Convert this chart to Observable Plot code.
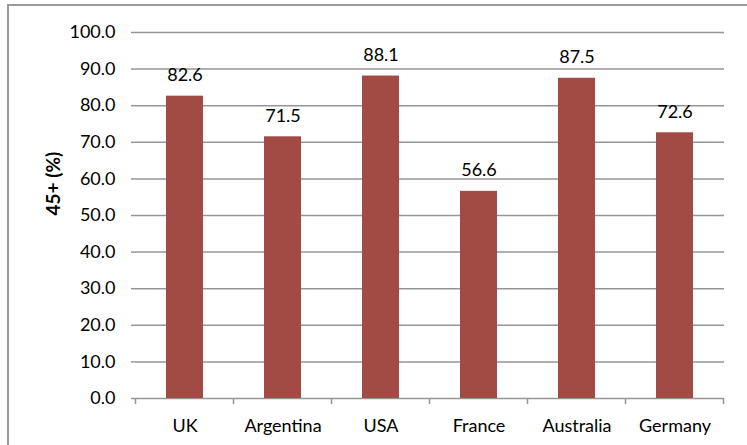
<!DOCTYPE html>
<html>
<head>
<meta charset="utf-8">
<script src="https://cdn.jsdelivr.net/npm/d3@7"></script>
<script src="https://cdn.jsdelivr.net/npm/@observablehq/plot@0.6"></script>
<style>
  html, body { margin: 0; padding: 0; background: #fff; overflow: hidden; }
  #wrap { position: relative; width: 747px; height: 445px; overflow: hidden; }
  #border { position: absolute; left: 7px; top: 4px; width: 800px; height: 500px; border: 2px solid #9a9a9a; box-sizing: border-box; }
  #chart { position: absolute; left: 0; top: 0; }
  #chart svg { background: transparent; }
</style>
</head>
<body>
<div id="wrap">
  <div id="border"></div>
  <div id="chart"></div>
</div>
<script>
const countries = ["UK", "Argentina", "USA", "France", "Australia", "Germany"];
const shares = [82.6, 71.5, 88.1, 56.6, 87.5, 72.6];
const yTicks = [0, 10, 20, 30, 40, 50, 60, 70, 80, 90, 100];
const yLabel = "45+ (%)";

const data = countries.map((c, i) => ({country: c, value: shares[i]}));

const gridColor = "#969696";
const barColor = "#a24a44";
const font = "Lato, 'Open Sans', sans-serif";
const textSize = 18;

// Tick marks at the category boundaries below the baseline
function boundaryTicks(index, scales, values, dims) {
  const x = scales.x;
  const y = scales.y;
  const step = typeof x.step === "function" ? x.step() : (dims.width - dims.marginLeft - dims.marginRight) / countries.length;
  const bw = typeof x.bandwidth === "function" ? x.bandwidth() : 0;
  const y0 = y(0);
  const g = d3.create("svg:g").attr("stroke", gridColor).attr("stroke-width", 1.5);
  const edges = countries.map(c => x(c) + bw / 2 - step / 2);
  edges.push(x(countries[countries.length - 1]) + bw / 2 + step / 2);
  for (const e of edges) {
    g.append("line").attr("x1", e).attr("x2", e).attr("y1", y0).attr("y2", y0 + 6);
  }
  return g.node();
}

const chart = Plot.plot({
  width: 747,
  height: 445,
  marginLeft: 136,
  marginRight: 23,
  marginTop: 32,
  marginBottom: 47,
  style: {fontFamily: font, fontSize: textSize + "px", color: "#000", background: "transparent"},
  x: {domain: countries, paddingInner: 0.62, paddingOuter: 0.31},
  y: {domain: [0, 100]},
  marks: [
    Plot.gridY(yTicks, {stroke: gridColor, strokeOpacity: 1, strokeWidth: 1.5}),
    Plot.axisY(yTicks, {
      tickFormat: d3.format(".1f"),
      tickSize: 5,
      tickPadding: 16,
      stroke: gridColor,
      strokeWidth: 1.5,
      fontSize: textSize,
      label: null
    }),
    Plot.ruleX([0], {frameAnchor: "left", stroke: gridColor, strokeWidth: 1.5}),
    Plot.text([yLabel], {
      frameAnchor: "left",
      dx: -83,
      rotate: -90,
      fontWeight: "bold",
      fontSize: 19
    }),
    Plot.barY(data, {x: "country", y: "value", fill: barColor}),
    Plot.text(data, {
      x: "country",
      y: "value",
      text: d => d.value.toFixed(1),
      dy: -21,
      fontSize: textSize,
      fill: "#000"
    }),
    Plot.axisX({tickSize: 0, tickPadding: 21, fontSize: textSize, label: null}),
    boundaryTicks
  ]
});

document.getElementById("chart").appendChild(chart);
</script>
</body>
</html>
